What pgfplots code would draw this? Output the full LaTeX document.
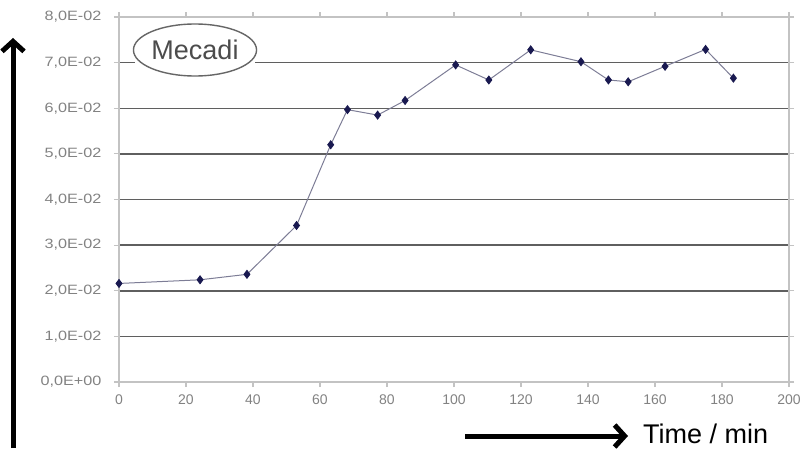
\documentclass[border=0pt]{standalone}
\usepackage{pgfplots}
\pgfplotsset{compat=1.18}
\usepackage{fontspec}
\setmainfont{Liberation Sans}
\usetikzlibrary{arrows.meta,shapes.geometric}
\definecolor{gridc}{RGB}{95,95,95}
\definecolor{axc}{RGB}{195,195,195}
\definecolor{tickc}{RGB}{130,130,130}
\definecolor{linec}{RGB}{125,125,150}
\definecolor{markc}{RGB}{25,25,80}
\begin{document}
\begin{tikzpicture}[x=1pt,y=1pt]
\useasboundingbox (0,0) rectangle (807,448);
\begin{axis}[
  at={(119pt,66pt)}, anchor=south west,
  width=670pt, height=365pt, scale only axis,
  xmin=0, xmax=200, ymin=0, ymax=0.08,
  xtick={0,20,40,60,80,100,120,140,160,180,200},
  xticklabels={0,20,40,60,80,100,120,140,160,180,200},
  ytick={0,0.01,0.02,0.03,0.04,0.05,0.06,0.07,0.08},
  yticklabels={{0,0E+00},{1,0E-02},{2,0E-02},{3,0E-02},{4,0E-02},{5,0E-02},{6,0E-02},{7,0E-02},{8,0E-02}},
  ymajorgrids, grid style={gridc, line width=1.5pt},
  axis line style={axc, line width=1.2pt},
  tick style={axc, line width=1.2pt},
  tick align=outside, major tick length=5pt,
  xticklabel style={font=\fontsize{14}{16}\selectfont, text=tickc, yshift=-4pt},
  yticklabel style={font=\fontsize{13.5}{16}\selectfont, text=tickc, xscale=1.2, xshift=-7pt},
  scaled y ticks=false,
]
\addplot[linec, line width=1pt, mark=diamond*, mark size=4pt,
  mark options={fill=markc, draw=markc, line width=0.8pt}] coordinates {
  (0,0.0216) (24.2,0.0224) (38.2,0.0236) (53,0.0343) (63.2,0.0520)
  (68.2,0.0597) (77.2,0.0585) (85.4,0.0617) (100.5,0.0695) (110.4,0.0662)
  (122.9,0.0728) (137.9,0.0702) (146.1,0.0662) (152.0,0.0658) (163.0,0.0692)
  (175.1,0.0729) (183.4,0.0666)
};
\end{axis}
% Mecadi label
\fill[white] (135,368) rectangle (255,428);
\node[draw=black!60, line width=1.4pt, fill=white, ellipse, minimum width=118pt, minimum height=52pt, inner sep=0pt,
  font=\fontsize{27}{30}\selectfont, text=black!70] at (195,398) {Mecadi};
% arrows
\draw[line width=5pt, -{Straight Barb[length=10pt,width=22pt]}] (13,0) -- (13,410);
\draw[line width=5pt, -{Straight Barb[length=10pt,width=22pt]}] (465,12) -- (628,12);
\node[anchor=base west, font=\fontsize{27}{30}\selectfont, inner sep=0pt] at (643,5) {Time / min};
\end{tikzpicture}
\end{document}
